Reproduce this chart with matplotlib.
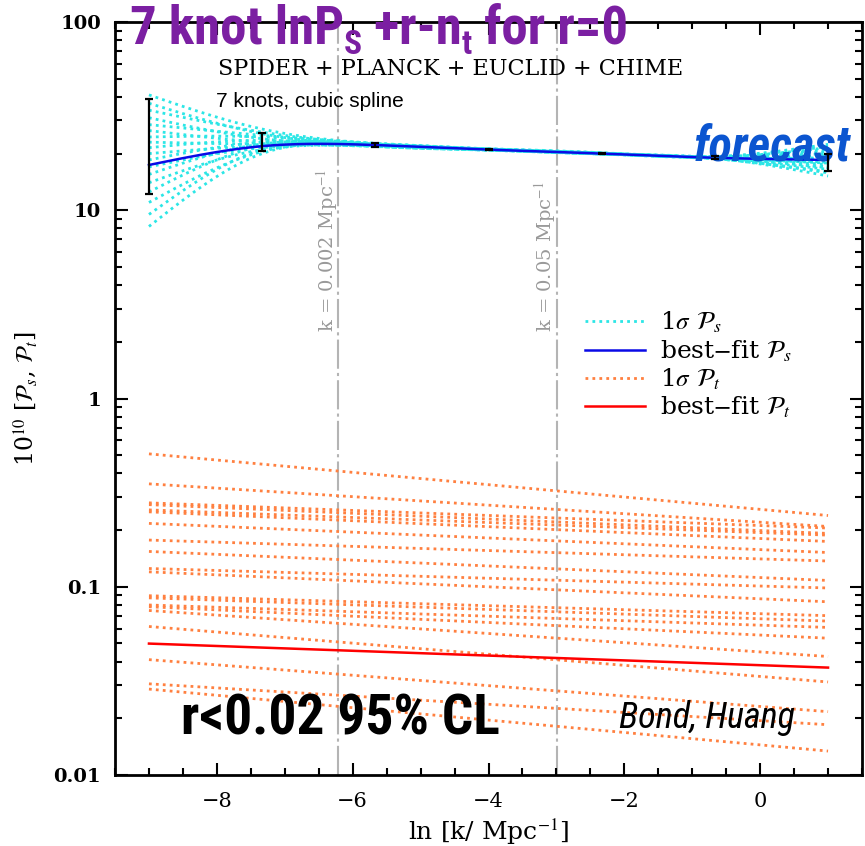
import numpy as np
import matplotlib.pyplot as plt
from matplotlib.ticker import MultipleLocator, LogLocator, NullFormatter, FixedLocator, FixedFormatter

plt.rcParams['mathtext.fontset'] = 'stix'
plt.rcParams['font.family'] = 'DejaVu Serif'

# knot positions in ln k and the best-fit scalar spectrum (x 1e10)
lnk_knots = [-9.0, -7.333, -5.667, -4.0, -2.333, -0.667, 1.0]
best_s = [17.4, 21.9, 22.2, 21.0, 20.0, 19.0, 18.5]
err_lo = [12.2, 20.7, 21.7, 20.8, 19.8, 18.7, 16.2]
err_hi = [38.9, 25.6, 22.7, 21.2, 20.2, 19.3, 20.0]

# 1 sigma scalar samples, values at the knots
sigma_s = [
    [41.0, 27.0, 22.6, 21.1, 20.1, 19.2, 21.5],
    [37.0, 25.5, 22.0, 20.9, 19.9, 18.8, 16.0],
    [34.0, 26.0, 22.4, 21.2, 20.2, 19.3, 22.4],
    [31.0, 24.0, 22.1, 21.0, 20.0, 19.0, 17.5],
    [28.5, 25.0, 22.7, 21.2, 20.1, 19.1, 20.5],
    [26.5, 23.0, 21.9, 20.9, 19.9, 18.9, 15.2],
    [24.5, 24.5, 22.3, 21.0, 20.0, 19.2, 21.0],
    [23.0, 22.5, 22.5, 21.1, 20.1, 19.0, 18.0],
    [21.5, 23.5, 21.8, 20.9, 19.9, 18.8, 16.5],
    [20.0, 22.0, 22.2, 21.0, 20.0, 19.1, 19.5],
    [18.5, 23.0, 22.6, 21.2, 20.2, 19.2, 20.0],
    [17.0, 21.5, 22.0, 21.0, 19.9, 18.9, 17.0],
    [15.5, 22.5, 22.4, 21.1, 20.1, 19.0, 18.8],
    [14.0, 21.0, 21.8, 20.8, 19.9, 18.8, 15.8],
    [12.5, 22.0, 22.3, 21.0, 20.0, 19.2, 21.8],
    [11.0, 20.5, 22.5, 21.1, 20.1, 19.0, 17.8],
    [9.5, 21.0, 21.9, 20.9, 19.9, 18.9, 19.0],
    [8.2, 20.0, 22.2, 21.0, 20.0, 19.1, 16.8],
]

# tensor spectrum: power laws between the two ends
lnk_ends = [-9.0, 1.0]
best_t = [0.0499, 0.0372]
sigma_t_start = [0.508, 0.352, 0.279, 0.273, 0.256, 0.250, 0.217, 0.177, 0.154, 0.125,
                 0.120, 0.0896, 0.0873, 0.080, 0.0783, 0.0748, 0.0615, 0.0410, 0.0305, 0.0286]
sigma_t_end = [0.239, 0.209, 0.205, 0.192, 0.188, 0.174, 0.152, 0.137, 0.108, 0.0985,
               0.0832, 0.0702, 0.0657, 0.0608, 0.0533, 0.0426, 0.0312, 0.0217, 0.0185, 0.0134]

k_pivots = [0.002, 0.05]
pivot_labels = ['k = 0.002 Mpc$^{-1}$', 'k = 0.05 Mpc$^{-1}$']

# title pieces: (text, is_subscript)
title_parts = [('7 knot lnP', False), ('S', True), (' +r-n', False), ('t', True), (' for r=0', False)]


def spline(xk, yk, x):
    # natural cubic spline through the knots
    xk = np.asarray(xk, float)
    yk = np.asarray(yk, float)
    n = len(xk)
    h = np.diff(xk)
    A = np.zeros((n, n))
    b = np.zeros(n)
    A[0, 0] = A[-1, -1] = 1
    for i in range(1, n - 1):
        A[i, i - 1] = h[i - 1]
        A[i, i] = 2 * (h[i - 1] + h[i])
        A[i, i + 1] = h[i]
        b[i] = 3 * ((yk[i + 1] - yk[i]) / h[i] - (yk[i] - yk[i - 1]) / h[i - 1])
    c = np.linalg.solve(A, b)
    bb = (yk[1:] - yk[:-1]) / h - h * (c[1:] + 2 * c[:-1]) / 3
    d = (c[1:] - c[:-1]) / (3 * h)
    j = np.clip(np.searchsorted(xk, x) - 1, 0, n - 2)
    t = x - xk[j]
    return yk[j] + bb[j] * t + c[j] * t**2 + d[j] * t**3


fig = plt.figure(figsize=(8.65, 8.46), dpi=100)
ax = fig.add_axes([115 / 865, 1 - 775 / 846, 747 / 865, 753 / 846])

x = np.linspace(-9, 1, 400)
dots = (0, (1, 1.5))

for i, row in enumerate(sigma_s):
    ax.plot(x, np.exp(spline(lnk_knots, np.log(row), x)), color='#2ce6e6', ls=dots, lw=2,
            label=r'1$\sigma$ $\mathcal{P}_s$' if i == 0 else None)
ax.plot(x, np.exp(spline(lnk_knots, np.log(best_s), x)), color='#0a0ae6', lw=1.8,
        label=r'best$-$fit $\mathcal{P}_s$')

for i in range(len(sigma_t_start)):
    ax.plot(lnk_ends, [sigma_t_start[i], sigma_t_end[i]], color='#ff8040', ls=dots, lw=2,
            label=r'1$\sigma$ $\mathcal{P}_t$' if i == 0 else None)
ax.plot(lnk_ends, best_t, color='#ff0000', lw=1.8, label=r'best$-$fit $\mathcal{P}_t$')

best = np.array(best_s)
ax.errorbar(lnk_knots, best_s, yerr=[best - np.array(err_lo), np.array(err_hi) - best],
            fmt='none', ecolor='black', elinewidth=1.6, capsize=3, capthick=1.6, zorder=5)

for k, lab in zip(k_pivots, pivot_labels):
    ax.axvline(np.log(k), color='#b4b4b4', lw=1.5, ls=(0, (14, 2, 1.5, 2)), zorder=0)
    ax.text(np.log(k) - 0.17, 2.25, lab, rotation=90, ha='center', va='bottom',
            color='#999999', fontsize=14)

ax.set_yscale('log')
ax.set_xlim(-9.5, 1.5)
ax.set_ylim(0.01, 100)
ax.xaxis.set_major_locator(MultipleLocator(2))
ax.xaxis.set_minor_locator(MultipleLocator(0.5))
ax.yaxis.set_major_locator(FixedLocator([0.01, 0.1, 1, 10, 100]))
ax.yaxis.set_major_formatter(FixedFormatter(['0.01', '0.1', '1', '10', '100']))
ax.yaxis.set_minor_locator(LogLocator(base=10, subs=np.arange(2, 10)))
ax.yaxis.set_minor_formatter(NullFormatter())
ax.tick_params(which='both', direction='in', top=True, right=True, width=1.5)
ax.tick_params(which='major', length=9)
ax.tick_params(which='minor', length=5)
ax.tick_params(axis='x', labelsize=15, pad=12)
ax.tick_params(axis='y', labelsize=14, pad=10)
for lab in ax.get_yticklabels():
    lab.set_fontweight('bold')
for s in ax.spines.values():
    s.set_linewidth(2)

ax.set_xlabel(r'ln [k/ Mpc$^{-1}$]', fontsize=18, labelpad=4)
ax.set_ylabel(r'10$^{10}$ [$\mathcal{P}_s$, $\mathcal{P}_t$]', fontsize=17, labelpad=10)

ax.legend(loc='upper left', bbox_to_anchor=(0.629, 0.6175), frameon=False, fontsize=18,
          handlelength=2.4, handletextpad=0.6, labelspacing=0.12, borderpad=0,
          borderaxespad=0)

sans = ['Roboto Condensed', 'Liberation Sans']
purple = '#7b1fa2'
prev_main = ax.annotate(title_parts[0][0], xy=(130 / 865, 1 - 44 / 846), xycoords='figure fraction',
                        va='baseline', ha='left', fontsize=38, fontweight='bold', family=sans,
                        color=purple, annotation_clip=False)
prev = prev_main
for txt, sub in title_parts[1:]:
    if sub:
        prev = ax.annotate(txt, xy=(1, 0), xycoords=(prev, prev_main), xytext=(0, -4),
                           textcoords='offset points', va='bottom', ha='left', fontsize=24,
                           fontweight='bold', family=sans, color=purple, annotation_clip=False)
    else:
        prev = ax.annotate(txt, xy=(1, 0), xycoords=(prev, prev_main), va='bottom', ha='left',
                           fontsize=38, fontweight='bold', family=sans, color=purple,
                           annotation_clip=False)
        prev_main = prev

ax.text(0.449, 0.937, 'SPIDER + PLANCK + EUCLID + CHIME', transform=ax.transAxes,
        ha='center', va='center', fontsize=16)
ax.text(0.135, 0.895, '7 knots, cubic spline', transform=ax.transAxes, ha='left',
        va='center', fontsize=15, family='Liberation Sans')
ax.text(0.985, 0.834, 'forecast', transform=ax.transAxes, ha='right', va='center',
        fontsize=35, fontweight='bold', style='italic', color='#0b55d0', family=sans)
ax.text(0.088, 0.074, 'r<0.02 95% CL', transform=ax.transAxes, ha='left', va='center',
        fontsize=40, fontweight='bold', family=sans)
ax.text(0.91, 0.076, 'Bond, Huang', transform=ax.transAxes, ha='right', va='center',
        fontsize=26, style='italic', family=sans)

fig.savefig('out.png', dpi=100)
